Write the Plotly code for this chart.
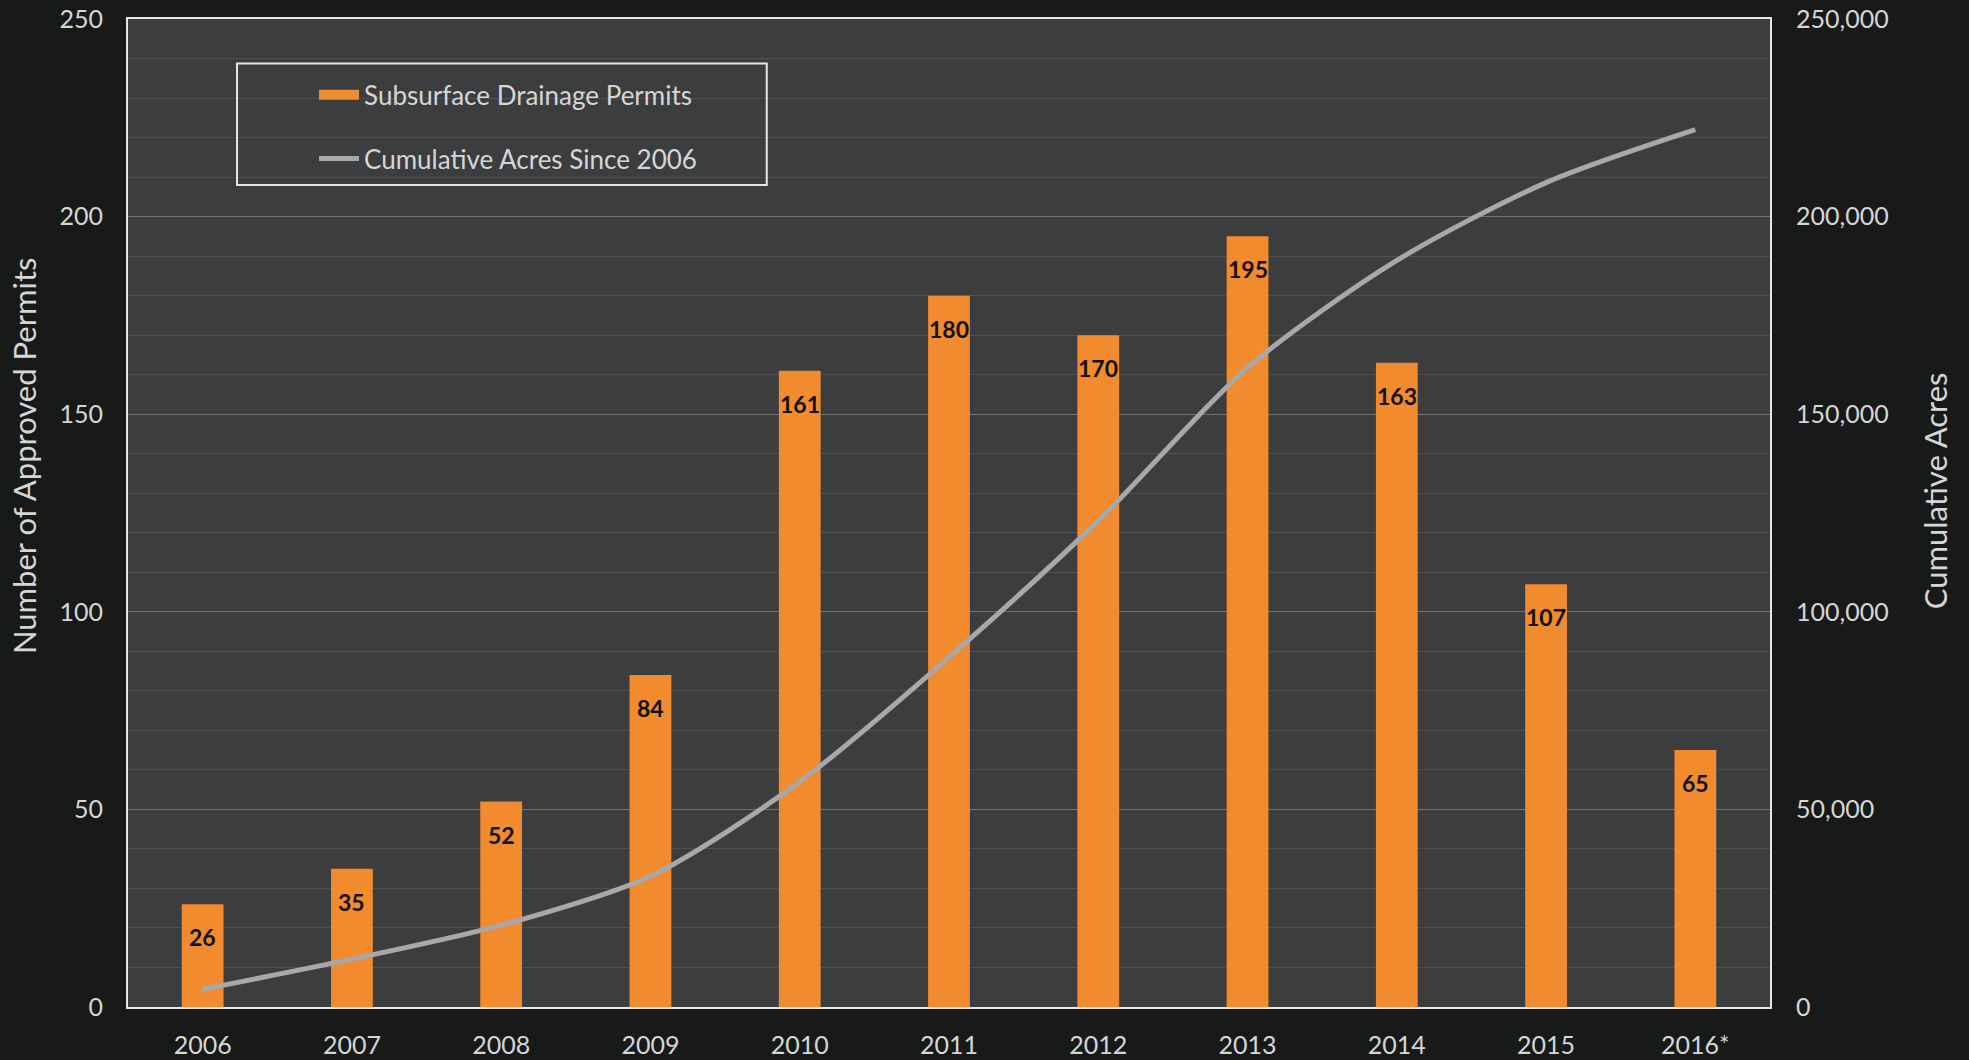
import plotly.graph_objects as go

years = ["2006", "2007", "2008", "2009", "2010", "2011", "2012", "2013", "2014", "2015", "2016*"]
permits = [26, 35, 52, 84, 161, 180, 170, 195, 163, 107, 65]
cumulative_acres = [4500, 12100, 20700, 33100, 57000, 88500, 123000, 161800, 188900, 208600, 222000]

FONT = "Lato"
TXT = "#d6d6d6"
ORANGE = "#f28a2e"
GRAY = "#a8a8a8"

fig = go.Figure()
fig.add_trace(go.Bar(
    x=years, y=permits, name="Subsurface Drainage Permits",
    marker=dict(color=ORANGE, line=dict(width=0)),
    showlegend=False,
))
# legend-only entry drawn as a wide orange swatch
fig.add_trace(go.Scatter(
    x=[years[0]], y=[None], name="Subsurface Drainage Permits", mode="lines",
    line=dict(color=ORANGE, width=17), legendgroup="a",
))
fig.add_trace(go.Scatter(
    x=years, y=cumulative_acres, name="Cumulative Acres Since 2006", yaxis="y2",
    mode="lines", line=dict(color=GRAY, width=5, shape="spline", smoothing=0.8),
    legendgroup="b",
))

# bar value labels (x given as category index)
annotations = [
    dict(x=i, y=v, xref="x", yref="y", text=f"<b>{v}</b>", showarrow=False,
         yanchor="top", yshift=-17, font=dict(size=23, color="#111111", family=FONT))
    for i, v in enumerate(permits)
]
# axis titles
annotations.append(dict(x=-0.0633, y=0.5577, xref="paper", yref="paper", textangle=-90,
                        xanchor="center", yanchor="middle",
                        text="Number of Approved Permits", showarrow=False,
                        font=dict(size=31, color=TXT, family=FONT)))
annotations.append(dict(x=1.1005, y=0.522, xref="paper", yref="paper", textangle=-90,
                        xanchor="center", yanchor="middle",
                        text="Cumulative Acres", showarrow=False,
                        font=dict(size=31, color=TXT, family=FONT)))

fig.update_layout(
    width=1969, height=1060,
    paper_bgcolor="#181a1a", plot_bgcolor="#3b3d3e",
    margin=dict(l=128, r=199, t=19, b=53, autoexpand=False),
    font=dict(family=FONT, color=TXT, size=25),
    bargap=0.72,
    showlegend=True,
    legend=dict(x=0.1133, y=0.947, xanchor="left", yanchor="top",
                bgcolor="rgba(0,0,0,0)", font=dict(size=26, color=TXT),
                tracegroupgap=27, itemwidth=40),
    xaxis=dict(type="category", categoryorder="array", categoryarray=years,
               range=[-0.5, len(years) - 0.5],
               showline=True, linecolor="#e6e6e6", linewidth=2, mirror=True,
               showgrid=False, ticks="", ticklabelstandoff=15, automargin=False,
               tickfont=dict(size=25, color=TXT)),
    yaxis=dict(range=[0, 250], dtick=50, showline=True, linecolor="#e6e6e6", linewidth=2,
               mirror=True, gridcolor="rgba(255,255,255,0.28)", gridwidth=1,
               minor=dict(dtick=10, showgrid=True, gridcolor="rgba(255,255,255,0.10)"),
               zeroline=False, ticks="", ticklabelstandoff=18, automargin=False,
               tickfont=dict(size=25, color=TXT)),
    yaxis2=dict(range=[0, 250000], dtick=50000, overlaying="y", side="right",
                showgrid=False, zeroline=False, tickformat=",", ticks="", ticklabelstandoff=25,
                automargin=False, tickfont=dict(size=25, color=TXT)),
    shapes=[dict(type="rect", xref="paper", yref="paper",
                 x0=0.0664, x1=0.389, y0=0.832, y1=0.955,
                 line=dict(color="#e6e6e6", width=2), fillcolor="rgba(0,0,0,0)")],
    annotations=annotations,
)

fig.write_html("out.html", config={"displayModeBar": False},
               post_script="document.body.style.margin='0px';document.body.style.background='#181a1a';")
